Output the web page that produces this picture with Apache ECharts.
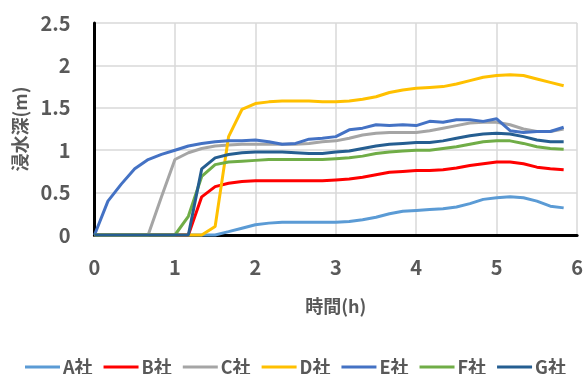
<!DOCTYPE html>
<html>
<head>
<meta charset="utf-8">
<script src="https://cdn.jsdelivr.net/npm/echarts@6/dist/echarts.min.js"></script>
<style>
  html, body { margin: 0; padding: 0; background: #fff; }
  #chart { width: 586px; height: 374px; }
</style>
</head>
<body>
<div id="chart"></div>
<script>
// Elapsed time in hours (10-minute steps)
const hours = [0, 0.167, 0.333, 0.5, 0.667, 0.833, 1, 1.167, 1.333, 1.5, 1.667, 1.833,
  2, 2.167, 2.333, 2.5, 2.667, 2.833, 3, 3.167, 3.333, 3.5, 3.667, 3.833,
  4, 4.167, 4.333, 4.5, 4.667, 4.833, 5, 5.167, 5.333, 5.5, 5.667, 5.833];

const companies = ['A社', 'B社', 'C社', 'D社', 'E社', 'F社', 'G社'];
const colors = ['#5B9BD5', '#FF0000', '#A5A5A5', '#FFC000', '#4472C4', '#70AD47', '#255E91'];

// Flood depth (m) per company
const depthA = [0, 0, 0, 0, 0, 0, 0, 0, 0, 0, 0.04, 0.08, 0.12, 0.14, 0.15, 0.15, 0.15, 0.15,
  0.15, 0.16, 0.18, 0.21, 0.25, 0.28, 0.29, 0.30, 0.31, 0.33, 0.37, 0.42, 0.44, 0.45, 0.44, 0.40, 0.34, 0.32];
const depthB = [0, 0, 0, 0, 0, 0, 0, 0, 0.45, 0.57, 0.61, 0.63, 0.64, 0.64, 0.64, 0.64, 0.64, 0.64,
  0.65, 0.66, 0.68, 0.71, 0.74, 0.75, 0.76, 0.76, 0.77, 0.79, 0.82, 0.84, 0.86, 0.86, 0.84, 0.80, 0.78, 0.77];
const depthC = [0, 0, 0, 0, 0, 0.45, 0.89, 0.97, 1.02, 1.05, 1.06, 1.07, 1.07, 1.07, 1.07, 1.07, 1.08, 1.10,
  1.11, 1.14, 1.18, 1.20, 1.21, 1.21, 1.21, 1.23, 1.26, 1.29, 1.32, 1.33, 1.33, 1.30, 1.25, 1.22, 1.22, 1.25];
const depthD = [0, 0, 0, 0, 0, 0, 0, 0, 0, 0.10, 1.16, 1.48, 1.55, 1.57, 1.58, 1.58, 1.58, 1.57,
  1.57, 1.58, 1.60, 1.63, 1.68, 1.71, 1.73, 1.74, 1.75, 1.78, 1.82, 1.86, 1.88, 1.89, 1.88, 1.84, 1.80, 1.76];
const depthE = [0, 0.40, 0.60, 0.78, 0.89, 0.95, 1.00, 1.05, 1.08, 1.10, 1.11, 1.11, 1.12, 1.10, 1.07, 1.08, 1.13, 1.14,
  1.16, 1.24, 1.26, 1.30, 1.29, 1.30, 1.29, 1.34, 1.33, 1.36, 1.36, 1.34, 1.37, 1.23, 1.21, 1.22, 1.22, 1.27];
const depthF = [0, 0, 0, 0, 0, 0, 0, 0.22, 0.69, 0.83, 0.86, 0.87, 0.88, 0.89, 0.89, 0.89, 0.89, 0.89,
  0.90, 0.91, 0.93, 0.96, 0.98, 0.99, 1.00, 1.00, 1.02, 1.04, 1.07, 1.10, 1.11, 1.11, 1.08, 1.04, 1.02, 1.01];
const depthG = [0, 0, 0, 0, 0, 0, 0, 0, 0.78, 0.91, 0.95, 0.97, 0.98, 0.98, 0.98, 0.97, 0.96, 0.96,
  0.98, 0.99, 1.02, 1.05, 1.07, 1.08, 1.09, 1.09, 1.11, 1.14, 1.17, 1.19, 1.20, 1.19, 1.16, 1.12, 1.10, 1.10];

const depths = [depthA, depthB, depthC, depthD, depthE, depthF, depthG];

// Axis ticks
const xTicks = [0, 1, 2, 3, 4, 5, 6];
const yTicks = [0, 0.5, 1, 1.5, 2, 2.5];

const textColor = '#595959';
const fontFamily = '"Noto Sans CJK JP", "Noto Sans", sans-serif';

const chart = echarts.init(document.getElementById('chart'), null, { renderer: 'canvas' });

chart.setOption({
  animation: false,
  backgroundColor: '#ffffff',
  color: colors,
  grid: { left: 94.5, right: 7, top: 23, bottom: 139, containLabel: false },
  xAxis: {
    type: 'value',
    min: xTicks[0],
    max: xTicks[xTicks.length - 1],
    interval: xTicks[1] - xTicks[0],
    name: '時間(h)',
    nameLocation: 'middle',
    nameGap: 62,
    nameTextStyle: { color: textColor, fontSize: 18, fontWeight: 'bold', fontFamily: fontFamily },
    axisLine: { show: true, onZero: false, lineStyle: { color: '#000000', width: 3 } },
    axisTick: { show: false },
    axisLabel: { color: textColor, fontSize: 20, fontWeight: 'bold', fontFamily: fontFamily, margin: 22 },
    splitLine: { show: true, lineStyle: { color: '#D9D9D9', width: 1.5 } }
  },
  yAxis: {
    type: 'value',
    min: yTicks[0],
    max: yTicks[yTicks.length - 1],
    interval: yTicks[1] - yTicks[0],
    name: '浸水深(m)',
    nameLocation: 'middle',
    nameGap: 65,
    nameRotate: 90,
    nameTextStyle: { color: textColor, fontSize: 18, fontWeight: 'bold', fontFamily: fontFamily },
    axisLine: { show: true, lineStyle: { color: '#000000', width: 3 } },
    axisTick: { show: false },
    axisLabel: { color: textColor, fontSize: 20, fontWeight: 'bold', fontFamily: fontFamily, margin: 24 },
    splitLine: { show: true, lineStyle: { color: '#D9D9D9', width: 1.5 } }
  },
  legend: {
    data: companies,
    left: 20,
    top: 353,
    icon: 'rect',
    itemWidth: 35,
    itemHeight: 3,
    itemGap: 11,
    textStyle: { color: textColor, fontSize: 18, fontWeight: 'bold', fontFamily: fontFamily, padding: [0, 0, 0, -2] }
  },
  series: companies.map((name, k) => ({
    name: name,
    type: 'line',
    showSymbol: false,
    symbol: 'none',
    clip: false,
    lineStyle: { width: 3, color: colors[k] },
    itemStyle: { color: colors[k] },
    data: hours.map((h, i) => [h, depths[k][i]])
  }))
});
</script>
</body>
</html>
